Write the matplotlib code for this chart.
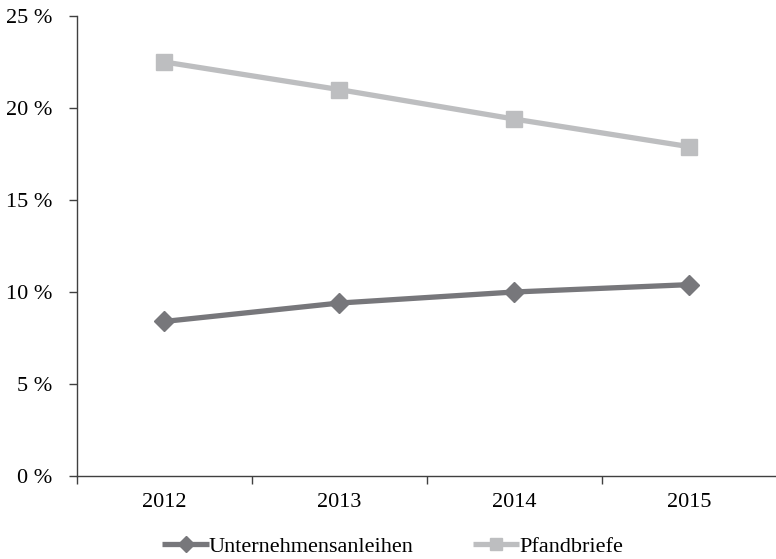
import matplotlib
matplotlib.use("Agg")
import matplotlib.pyplot as plt
from matplotlib.ticker import FixedLocator, FuncFormatter

years = ["2012", "2013", "2014", "2015"]
unternehmensanleihen = [8.4, 9.4, 10.0, 10.4]
pfandbriefe = [22.5, 21.0, 19.4, 17.9]
y_ticks = [0, 5, 10, 15, 20, 25]

plt.rcParams["font.family"] = ["Liberation Serif", "DejaVu Serif"]

fig = plt.figure(figsize=(7.76, 5.59), dpi=100)
ax = fig.add_axes([77 / 776, 1 - 476 / 559, 699.5 / 776, (476 - 16) / 559])

x = list(range(len(years)))
ax.plot(x, unternehmensanleihen, color="#77777b", lw=3.8, marker="D", ms=10.5,
        label="Unternehmensanleihen", solid_capstyle="butt")
ax.plot(x, pfandbriefe, color="#bdbec0", lw=3.8, marker="s", ms=12,
        label="Pfandbriefe", solid_capstyle="butt")

ax.set_xlim(-0.5, 3.5)
ax.set_ylim(0, 25)
ax.set_xticks(x)
ax.set_xticklabels(years)
ax.xaxis.set_minor_locator(FixedLocator([-0.5, 0.5, 1.5, 2.5, 3.5]))
ax.tick_params(axis="x", which="major", length=0, pad=12, labelsize=16)
ax.tick_params(axis="x", which="minor", length=6, width=1, color="#404040", direction="out")
ax.set_yticks(y_ticks)
ax.yaxis.set_major_formatter(FuncFormatter(lambda v, p: f"{int(v)} %"))
ax.tick_params(axis="y", length=6, width=1, color="#404040", pad=12, labelsize=16)

for s in ("top", "right"):
    ax.spines[s].set_visible(False)
for s in ("left", "bottom"):
    ax.spines[s].set_color("#404040")
    ax.spines[s].set_linewidth(1)

fig.legend(loc="center", bbox_to_anchor=(0.506, 1 - 547 / 559), ncol=2, frameon=False,
           fontsize=16, handlelength=2.1, handletextpad=0.0, columnspacing=2.65,
           markerscale=0.75)

fig.savefig("out.png", dpi=100)
